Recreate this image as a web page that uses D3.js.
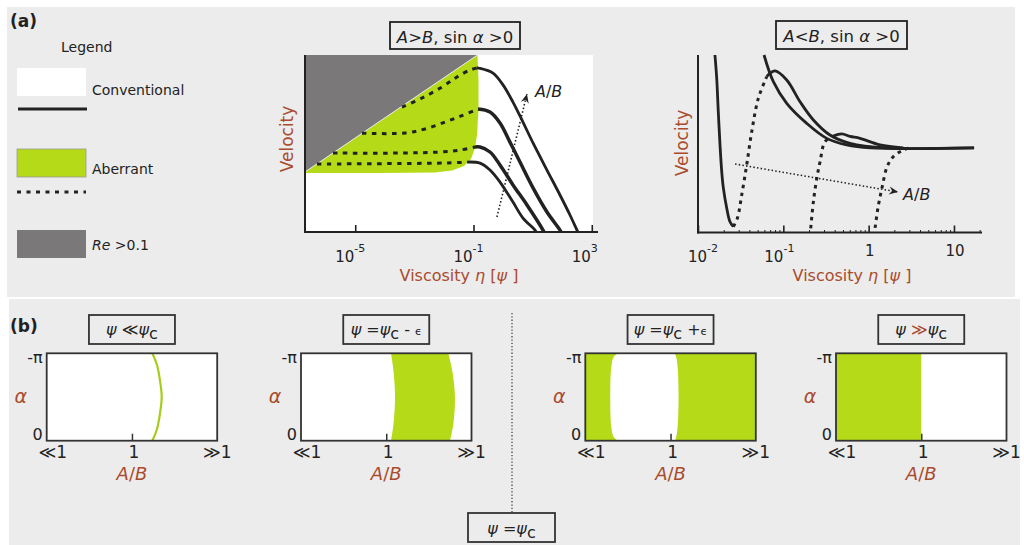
<!DOCTYPE html>
<html><head><meta charset="utf-8">
<script src="https://cdn.jsdelivr.net/npm/d3@7"></script>
<style>
body{margin:0;background:#fff}
svg{display:block}
text{font-family:"DejaVu Sans",sans-serif}
</style>
</head><body>
<svg id="c" width="1024" height="545"></svg>
<script>
// ---------------- DATA ----------------
const legendLabels = ["Conventional", "Aberrant", "Re >0.1"];

// Panel (a) left: A>B, sin a>0   [viscosity eta, velocity (arb.)]
const leftTickValues = [1e-5, 1e-1, 1e3];
const leftTickExps = ["-5", "-1", "3"];
const reRegion = [[2e-7, 0.339], [0.1365, 1.0], [2e-7, 1.0]];
const aberrantRegion = [[2e-7,0.339],[0.1365,1.0],[0.1476,0.859],[0.1476,0.689],[0.1312,0.548],[0.1122,0.475],
  [0.0822,0.412],[0.0476,0.373],[0.0187,0.347],[0.00498,0.336],[6.87e-5,0.333],[2e-7,0.333]];
const leftDashed = [
  [[3.81e-4,0.706],[1.81e-3,0.757],[8.59e-3,0.819],[2.76e-2,0.876],[7.60e-2,0.915],[0.131,0.927]],
  [[1.69e-5,0.558],[4.82e-4,0.559],[2.29e-3,0.582],[1.09e-2,0.621],[3.49e-2,0.653],[0.142,0.695]],
  [[1.77e-6,0.446],[3.27e-4,0.446],[7.35e-3,0.452],[3.49e-2,0.463],[0.112,0.480]],
  [[5.09e-7,0.384],[3.27e-4,0.387],[1.37e-2,0.390],[6.03e-2,0.395]]
];
const leftSolid = [
  [[0.131,0.927],[0.166,0.925],[0.456,0.898],[0.993,0.831],[2.16,0.734],[4.71,0.621],[10.3,0.503],[30.5,0.350],[84.1,0.209],[183,0.096],[316,0.011],[341,0]],
  [[0.142,0.695],[0.361,0.678],[0.787,0.616],[1.71,0.508],[3.73,0.395],[10.3,0.249],[30.5,0.113],[84.1,0.011],[90.8,0]],
  [[0.112,0.480],[0.166,0.480],[0.361,0.452],[0.787,0.379],[2.16,0.266],[6.43,0.153],[22.4,0.011],[24.2,0]],
  [[0.0603,0.395],[0.166,0.389],[0.361,0.350],[0.787,0.282],[2.16,0.169],[4.71,0.079],[12.0,0.011],[13.0,0]]
];
const leftArrow = [[0.622,0.085],[6.43,0.780]];

// Panel (a) right: A<B, sin a>0
const rightTickValues = [0.01, 0.1, 1, 10];
const rightTickLabels = [["10","-2"],["10","-1"],["1",""],["10",""]];
const rightSolid = [
  [[0.0158,1.0],[0.01656,0.870],[0.01729,0.680],[0.01811,0.492],[0.01897,0.341],[0.01982,0.249],[0.02169,0.136],[0.02371,0.058],[0.02594,0.030]],
  [[0.06383,0.877],[0.0698,0.897],[0.0800,0.910],[0.1096,0.859],[0.157,0.736],[0.225,0.633],[0.352,0.548],[0.605,0.501],[1.63,0.475],[17.2,0.475]],
  [[0.0594,1.0],[0.0764,0.849],[0.1096,0.727],[0.188,0.614],[0.323,0.529],[0.553,0.492],[1.04,0.475],[17.2,0.475]],
  [[0.385,0.542],[0.484,0.554],[0.605,0.540],[0.793,0.529],[1.36,0.492],[2.55,0.475]]
];
const rightDashed = [
  [[0.02594,0.030],[0.02891,0.077],[0.03253,0.209],[0.03722,0.379],[0.04262,0.567],[0.05093,0.755],[0.06383,0.877]],
  [[0.2094,0.021],[0.225,0.171],[0.2466,0.303],[0.2694,0.397],[0.3083,0.510],[0.385,0.542]],
  [[1.19,0.023],[1.29,0.141],[1.44,0.254],[1.64,0.367],[1.93,0.424],[2.53,0.463],[3.0,0.475]]
];
const rightArrow = [[0.0272,0.384],[2.21,0.226]];

// Panel (b): maps over A/B (0 = <<1, 1 = 1, 2 = >>1) and alpha (0 .. -pi)
const abLabels = ["\u226A1", "1", "\u226B1"];
const alphaLabels = ["0", "-\u03C0"];
const map1Line = [[1.239,0],[1.294,-0.42],[1.329,-0.98],[1.349,-1.57],[1.329,-2.16],[1.294,-2.72],[1.239,-3.14]];
const map2Left = [[1.056,0],[1.085,-0.6],[1.103,-1.57],[1.085,-2.5],[1.056,-3.14]];
const map2Right = [[1.748,0],[1.787,-0.6],[1.806,-1.57],[1.775,-2.5],[1.728,-3.14]];
const map3HoleLeft = [[0.383,0],[0.333,-0.13],[0.305,-0.49],[0.293,-1.57],[0.305,-2.65],[0.333,-3.01],[0.383,-3.14]];
const map3HoleRight = [[1.054,0],[1.066,-0.13],[1.083,-0.49],[1.094,-1.57],[1.083,-2.65],[1.066,-3.01],[1.047,-3.14]];
const map4Region = [[0,0],[1,0],[1,-3.14],[0,-3.14]];

// ---------------- DRAW ----------------
const INK = "#222", BROWN = "#a94b2c", GREEN = "#b4da18", REGRAY = "#7a7878", BG = "#ececec";
const svg = d3.select("#c");
const defs = svg.append("defs");
defs.append("marker").attr("id","ah").attr("viewBox","-10 -5 12 10")
  .attr("refX",0).attr("refY",0).attr("markerWidth",12).attr("markerHeight",10)
  .attr("markerUnits","userSpaceOnUse").attr("orient","auto")
  .append("path").attr("d","M0,0 L-9,-4 L-6,0 L-9,4 Z").attr("fill",INK);

svg.append("rect").attr("x",7).attr("y",7).attr("width",1008).attr("height",290).attr("fill",BG);
svg.append("rect").attr("x",9).attr("y",299).attr("width",1011).attr("height",246).attr("fill",BG);

function rich(sel, x, y, parts, o) {
  const t = sel.append("text").attr("x",x).attr("y",y).attr("font-size",o.size)
    .attr("text-anchor",o.anchor||"start").attr("fill",o.fill||INK);
  if (o.bold) t.attr("font-weight","bold");
  if (o.rotate) t.attr("transform",`rotate(${o.rotate},${x},${y})`);
  let shift = 0;
  parts.forEach(p => {
    const s = t.append("tspan").text(p.t);
    let target = p.sub ? 4 : (p.sup ? -10 : 0);
    if (target !== shift) { s.attr("dy", target - shift); shift = target; }
    if (p.i) s.attr("font-style","italic");
    if (p.fill) s.attr("fill",p.fill);
    if (p.size) s.attr("font-size",p.size);
    if (p.dx) s.attr("dx",p.dx);
  });
  return t;
}

// ----- legend -----
rich(svg,10,27,[{t:"(a)"}],{size:17,bold:true});
rich(svg,61,52,[{t:"Legend"}],{size:14});
svg.append("rect").attr("x",17).attr("y",68).attr("width",69).attr("height",28).attr("fill","#fff");
rich(svg,92,95,[{t:legendLabels[0]}],{size:14});
svg.append("line").attr("x1",18).attr("x2",87).attr("y1",109).attr("y2",109).attr("stroke",INK).attr("stroke-width",3);
svg.append("rect").attr("x",17).attr("y",149).attr("width",69).attr("height",28).attr("fill",GREEN).attr("stroke","#999").attr("stroke-width",0.8);
rich(svg,92,174,[{t:legendLabels[1]}],{size:14});
svg.append("line").attr("x1",17).attr("x2",86).attr("y1",192).attr("y2",192).attr("stroke",INK).attr("stroke-width",3).attr("stroke-dasharray","4,5.5");
svg.append("rect").attr("x",17).attr("y",230).attr("width",69).attr("height",28).attr("fill",REGRAY);
rich(svg,92,250,[{t:legendLabels[2].slice(0,2),i:1},{t:legendLabels[2].slice(2)}],{size:14});

const lineGen = (x,y) => d3.line().x(d=>x(d[0])).y(d=>y(d[1])).curve(d3.curveCatmullRom.alpha(0.5));

// ----- left plot -----
const xL = d3.scaleLog().domain([2e-7, 1.1e3]).range([305,593]);
const yL = d3.scaleLinear().domain([0,1]).range([232,55]);
svg.append("rect").attr("x",305).attr("y",55).attr("width",288).attr("height",177).attr("fill","#fff");
const polyL = d3.line().x(d=>xL(d[0])).y(d=>yL(d[1]));
svg.append("path").attr("d",polyL(aberrantRegion)+"Z").attr("fill",GREEN);
svg.append("path").attr("d",polyL(reRegion)+"Z").attr("fill",REGRAY);
svg.append("line").attr("x1",xL(reRegion[0][0])).attr("y1",yL(reRegion[0][1])).attr("x2",xL(reRegion[1][0])).attr("y2",yL(reRegion[1][1]))
  .attr("stroke","#e8e8e8").attr("stroke-width",1);
const lgL = lineGen(xL,yL);
const leftW = [2.8,3.5,3.5,2.8];
leftDashed.forEach((c,i)=>svg.append("path").attr("d",lgL(c)).attr("fill","none").attr("stroke",INK)
  .attr("stroke-width",3).attr("stroke-dasharray","4.5,5.5"));
leftSolid.forEach((c,i)=>svg.append("path").attr("d",lgL(c)).attr("fill","none").attr("stroke",INK)
  .attr("stroke-width",leftW[i]));
svg.append("path").attr("d",d3.line().x(d=>xL(d[0])).y(d=>yL(d[1]))(leftArrow)).attr("stroke",INK).attr("fill","none")
  .attr("stroke-width",1.6).attr("stroke-dasharray","1.5,2.2").attr("marker-end","url(#ah)");
rich(svg,xL(leftArrow[1][0])+8,yL(leftArrow[1][1])+3,[{t:"A",i:1},{t:"/"},{t:"B",i:1}],{size:16});
// axes
svg.append("line").attr("x1",305).attr("x2",305).attr("y1",55).attr("y2",233).attr("stroke",INK).attr("stroke-width",2);
svg.append("line").attr("x1",304).attr("x2",598).attr("y1",232).attr("y2",232).attr("stroke",INK).attr("stroke-width",2);
const gLx = svg.append("g").attr("transform","translate(0,232)")
  .call(d3.axisBottom(xL).tickValues(leftTickValues).tickSizeInner(-7).tickSizeOuter(0).tickFormat(""));
gLx.select(".domain").remove();
gLx.selectAll("line").attr("stroke",INK).attr("stroke-width",1.6);
leftTickValues.forEach((v,i)=>{
  rich(svg,xL(v)-20,262,[{t:"10"},{t:leftTickExps[i],sup:1,size:11}],{size:15});
});
rich(svg,459,281,[{t:"Viscosity "},{t:"\u03B7",i:1},{t:"  ["},{t:"\u03C8",i:1},{t:" ]"}],{size:16,anchor:"middle",fill:BROWN});
rich(svg,293,139,[{t:"Velocity"}],{size:17,anchor:"middle",fill:BROWN,rotate:-90});
// title
svg.append("rect").attr("x",390).attr("y",22).attr("width",130).attr("height",27).attr("fill","none").attr("stroke",INK).attr("stroke-width",1.8);
rich(svg,455,43,[{t:"A",i:1},{t:">"},{t:"B",i:1},{t:", sin "},{t:"\u03B1",i:1},{t:" >0"}],{size:16.5,anchor:"middle"});

// ----- right plot -----
const xR = d3.scaleLog().domain([0.01, 21.3]).range([698,982]);
const yR = d3.scaleLinear().domain([0,1]).range([232,55]);
const lgR = lineGen(xR,yR);
rightDashed.forEach(c=>svg.append("path").attr("d",lgR(c)).attr("fill","none").attr("stroke",INK)
  .attr("stroke-width",3).attr("stroke-dasharray","3.5,4.5"));
rightSolid.forEach(c=>svg.append("path").attr("d",lgR(c)).attr("fill","none").attr("stroke",INK)
  .attr("stroke-width",2.8));
svg.append("path").attr("d",d3.line().x(d=>xR(d[0])).y(d=>yR(d[1]))(rightArrow)).attr("stroke",INK).attr("fill","none")
  .attr("stroke-width",1.6).attr("stroke-dasharray","1.5,2.2").attr("marker-end","url(#ah)");
rich(svg,xR(rightArrow[1][0])+5,yR(rightArrow[1][1])+8,[{t:"A",i:1},{t:"/"},{t:"B",i:1}],{size:16});
svg.append("line").attr("x1",698).attr("x2",698).attr("y1",55).attr("y2",233.5).attr("stroke",INK).attr("stroke-width",2);
svg.append("line").attr("x1",697).attr("x2",982).attr("y1",232.5).attr("y2",232.5).attr("stroke",INK).attr("stroke-width",2);
const minorR = xR.ticks().filter(v=>!rightTickValues.some(m=>Math.abs(m-v)/m<1e-6));
const gRm = svg.append("g").attr("transform","translate(0,232.5)")
  .call(d3.axisBottom(xR).tickValues(minorR).tickSizeInner(-2.5).tickSizeOuter(0).tickFormat(""));
gRm.select(".domain").remove();
gRm.selectAll("line").attr("stroke",INK).attr("stroke-width",1);
const gRx = svg.append("g").attr("transform","translate(0,232.5)")
  .call(d3.axisBottom(xR).tickValues(rightTickValues).tickSizeInner(-7).tickSizeOuter(0).tickFormat(""));
gRx.select(".domain").remove();
gRx.selectAll("line").attr("stroke",INK).attr("stroke-width",1.6);
rightTickValues.forEach((v,i)=>{
  const [b,e] = rightTickLabels[i];
  if (e) {
    rich(svg,xR(v)-19+(i===0?9:0),262,[{t:b},{t:e,sup:1,size:11}],{size:15});
  } else {
    rich(svg,xR(v)+1,256,[{t:b}],{size:15,anchor:"middle"});
  }
});
rich(svg,852,281,[{t:"Viscosity "},{t:"\u03B7",i:1},{t:"  ["},{t:"\u03C8",i:1},{t:" ]"}],{size:16,anchor:"middle",fill:BROWN});
rich(svg,688,143,[{t:"Velocity"}],{size:17,anchor:"middle",fill:BROWN,rotate:-90});
svg.append("rect").attr("x",776).attr("y",21).attr("width",131).attr("height",28).attr("fill","none").attr("stroke",INK).attr("stroke-width",1.8);
rich(svg,841.5,42,[{t:"A",i:1},{t:"<"},{t:"B",i:1},{t:", sin "},{t:"\u03B1",i:1},{t:" >0"}],{size:16.5,anchor:"middle"});

// ----- panel (b) -----
rich(svg,10,332,[{t:"(b)"}],{size:17,bold:true});
const mapX0 = [46.7, 301, 585.3, 836];
const mapTitles = [
  [{t:"\u03C8",i:1},{t:" \u226A"},{t:"\u03C8",i:1},{t:"c",sub:1}],
  [{t:"\u03C8",i:1},{t:" ="},{t:"\u03C8",i:1},{t:"c",sub:1},{t:" - "},{t:"\u03F5",size:11}],
  [{t:"\u03C8",i:1},{t:" ="},{t:"\u03C8",i:1},{t:"c",sub:1},{t:" +"},{t:"\u03F5",size:11}],
  [{t:"\u03C8",i:1},{t:" "},{t:"\u226B",fill:BROWN},{t:"\u03C8",i:1},{t:"c",sub:1}]
];
mapX0.forEach((x0,k)=>{
  const u = d3.scaleLinear().domain([0,2]).range([x0, x0+170.5]);
  const a = d3.scaleLinear().domain([0,-Math.PI]).range([440.7,353.3]);
  const g = svg.append("g");
  g.append("rect").attr("x",x0).attr("y",353.3).attr("width",170.5).attr("height",87.4).attr("fill","#fff");
  const poly = d3.line().x(d=>u(d[0])).y(d=>a(d[1]));
  const smooth = d3.line().x(d=>u(d[0])).y(d=>a(d[1])).curve(d3.curveCatmullRom.alpha(0.5));
  if (k===0) {
    g.append("path").attr("d",smooth(map1Line)).attr("fill","none").attr("stroke","#a8cc1c").attr("stroke-width",2.2);
  } else if (k===1) {
    g.append("path").attr("d",smooth(map2Left)+"L"+smooth(map2Right.slice().reverse()).slice(1)+"Z").attr("fill",GREEN);
  } else if (k===2) {
    g.append("path").attr("d",poly([[0,0],[2,0],[2,-Math.PI],[0,-Math.PI]])+"Z").attr("fill",GREEN);
    g.append("path").attr("d",smooth(map3HoleLeft)+"L"+smooth(map3HoleRight.slice().reverse()).slice(1)+"Z").attr("fill","#fff");
  } else {
    g.append("path").attr("d",poly(map4Region)+"Z").attr("fill",GREEN);
  }
  g.append("rect").attr("x",x0).attr("y",353.3).attr("width",170.5).attr("height",87.4).attr("fill","none").attr("stroke","#333").attr("stroke-width",1.8);
  const ax = g.append("g").attr("transform","translate(0,440.7)")
    .call(d3.axisBottom(u).tickValues([1]).tickSizeInner(-7).tickSizeOuter(0).tickFormat(""));
  ax.select(".domain").remove();
  ax.selectAll("line").attr("stroke","#333").attr("stroke-width",1.5);
  [0,1,2].forEach(i=>rich(g,u(i)+(i===0?6:(i===1?2:0)),458,[{t:abLabels[i]}],{size:17,anchor:"middle"}));
  rich(g,x0-4,440,[{t:alphaLabels[0]}],{size:16,anchor:"end"});
  rich(g,x0-4,363,[{t:alphaLabels[1]}],{size:16,anchor:"end"});
  rich(g,x0-26,403,[{t:"\u03B1",i:1}],{size:19,anchor:"middle",fill:BROWN});
  rich(g,u(1),480,[{t:"A",i:1},{t:"/"},{t:"B",i:1}],{size:18,anchor:"middle",fill:BROWN});
  const cx = u(1);
  g.append("rect").attr("x",cx-43).attr("y",315).attr("width",86).attr("height",29).attr("fill","none").attr("stroke","#333").attr("stroke-width",1.8);
  rich(g,cx,335,mapTitles[k],{size:16,anchor:"middle"});
});
// critical divider
svg.append("line").attr("x1",512).attr("x2",512).attr("y1",313).attr("y2",513).attr("stroke","#444").attr("stroke-width",1.3).attr("stroke-dasharray","1.3,2");
svg.append("rect").attr("x",468).attr("y",513).attr("width",87).attr("height",29).attr("fill","none").attr("stroke","#333").attr("stroke-width",1.8);
rich(svg,511.5,534,[{t:"\u03C8",i:1},{t:" ="},{t:"\u03C8",i:1},{t:"c",sub:1}],{size:16,anchor:"middle"});
</script>
</body></html>
